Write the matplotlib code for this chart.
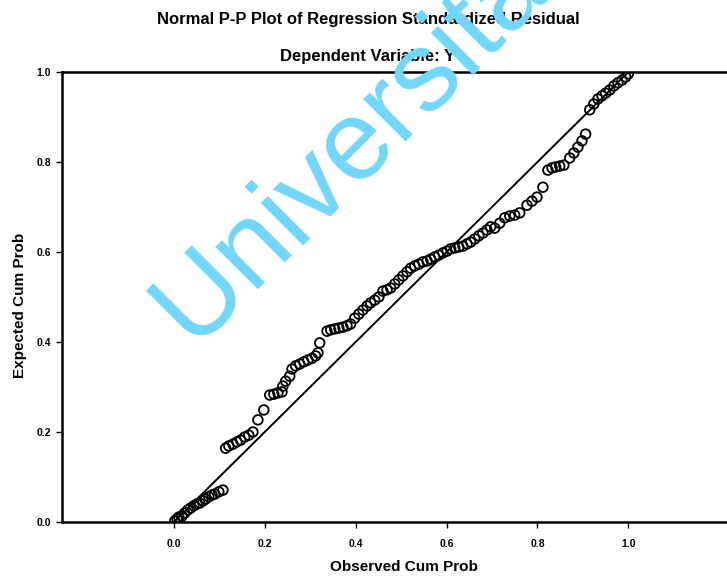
import matplotlib
matplotlib.use("Agg")
import matplotlib.pyplot as plt

plt.rcParams['font.family'] = ['Liberation Sans', 'DejaVu Sans']

title = "Normal P-P Plot of Regression Standardized Residual"
subtitle = "Dependent Variable: Y"
xlabel = "Observed Cum Prob"
ylabel = "Expected Cum Prob"
watermark = "Universitas"

tick_values = [0.0, 0.2, 0.4, 0.6, 0.8, 1.0]
tick_labels = ["0.0", "0.2", "0.4", "0.6", "0.8", "1.0"]

observed = [0.002, 0.007, 0.011, 0.018, 0.024, 0.031, 0.037, 0.044, 0.051, 0.057,
            0.064, 0.070, 0.077, 0.084, 0.090, 0.099, 0.108,
            0.114, 0.121, 0.130, 0.139, 0.147, 0.156, 0.165, 0.174,
            0.185, 0.198, 0.211, 0.220, 0.229, 0.238, 0.240, 0.246, 0.255,
            0.260, 0.268, 0.277, 0.286, 0.295, 0.304, 0.312, 0.317, 0.321,
            0.337, 0.345, 0.354, 0.363, 0.372, 0.381, 0.389,
            0.398, 0.407, 0.416, 0.425, 0.433, 0.442, 0.451,
            0.460, 0.469, 0.477, 0.486, 0.495, 0.504, 0.513, 0.521, 0.530,
            0.539, 0.548, 0.557, 0.565, 0.574, 0.583, 0.592, 0.601, 0.609,
            0.618, 0.627, 0.636, 0.645, 0.653, 0.662, 0.671, 0.680, 0.689,
            0.697, 0.706, 0.717, 0.728, 0.739, 0.750, 0.761, 0.777, 0.788,
            0.799, 0.812, 0.823, 0.832, 0.840, 0.849, 0.858, 0.871, 0.880,
            0.889, 0.898, 0.906, 0.915, 0.924, 0.933, 0.942, 0.950, 0.959,
            0.968, 0.977, 0.986, 0.994, 1.000]
expected = [0.002, 0.007, 0.011, 0.013, 0.020, 0.027, 0.031, 0.036, 0.040, 0.042,
            0.047, 0.051, 0.056, 0.060, 0.062, 0.067, 0.071,
            0.164, 0.169, 0.173, 0.178, 0.182, 0.189, 0.193, 0.200,
            0.227, 0.249, 0.282, 0.284, 0.287, 0.289, 0.302, 0.313, 0.324,
            0.340, 0.347, 0.351, 0.356, 0.360, 0.364, 0.369, 0.376, 0.398,
            0.424, 0.427, 0.429, 0.431, 0.433, 0.436, 0.440,
            0.453, 0.462, 0.471, 0.480, 0.487, 0.493, 0.500,
            0.513, 0.516, 0.520, 0.529, 0.538, 0.547, 0.556, 0.564, 0.569,
            0.573, 0.578, 0.580, 0.584, 0.589, 0.593, 0.598, 0.602, 0.607,
            0.609, 0.611, 0.613, 0.618, 0.622, 0.629, 0.636, 0.642, 0.649,
            0.656, 0.653, 0.664, 0.676, 0.680, 0.682, 0.687, 0.704, 0.713,
            0.722, 0.744, 0.782, 0.787, 0.789, 0.791, 0.793, 0.809, 0.820,
            0.833, 0.847, 0.862, 0.916, 0.929, 0.940, 0.947, 0.953, 0.960,
            0.969, 0.976, 0.982, 0.989, 0.996]

fig = plt.figure(figsize=(7.27, 5.79), dpi=100)
ax = fig.add_axes([62/727, 57/579, 1 - 62/727, 450/579])

ax.set_xlim(-0.246, 1.217)
ax.set_ylim(0.0, 1.0)

ax.plot([0, 1], [0, 1], color='black', lw=1.4, zorder=2)
ax.scatter(observed, expected, s=48, facecolors='none', edgecolors='black',
           linewidths=1.3, zorder=3)

for side in ['left', 'bottom', 'top']:
    ax.spines[side].set_linewidth(1.8)
    ax.spines[side].set_color('black')
ax.spines['right'].set_visible(False)

ax.set_xticks(tick_values)
ax.set_xticklabels(tick_labels)
ax.set_yticks(tick_values)
ax.set_yticklabels(tick_labels)
ax.tick_params(axis='both', direction='out', length=4, width=1, labelsize=7.5, pad=4)
ax.tick_params(axis='x', pad=8)
for lbl in ax.get_xticklabels() + ax.get_yticklabels():
    lbl.set_fontweight('bold')

fig.text(0.506, 0.9655, title, ha='center', va='center', fontsize=12, fontweight='bold')
fig.text(0.506, 0.9016, subtitle, ha='center', va='center', fontsize=12, fontweight='bold')
fig.text(0.556, 0.0207, xlabel, ha='center', va='center', fontsize=11, fontweight='bold')
fig.text(0.0275, 0.473, ylabel, ha='center', va='center', rotation=90, fontsize=11,
         fontweight='bold')

fig.text(193/727, 1 - 346/579, watermark, ha='left', va='baseline', rotation=45,
         rotation_mode='anchor', fontsize=82, color='#72d7fb', zorder=10)

fig.savefig('out.png', dpi=100)
